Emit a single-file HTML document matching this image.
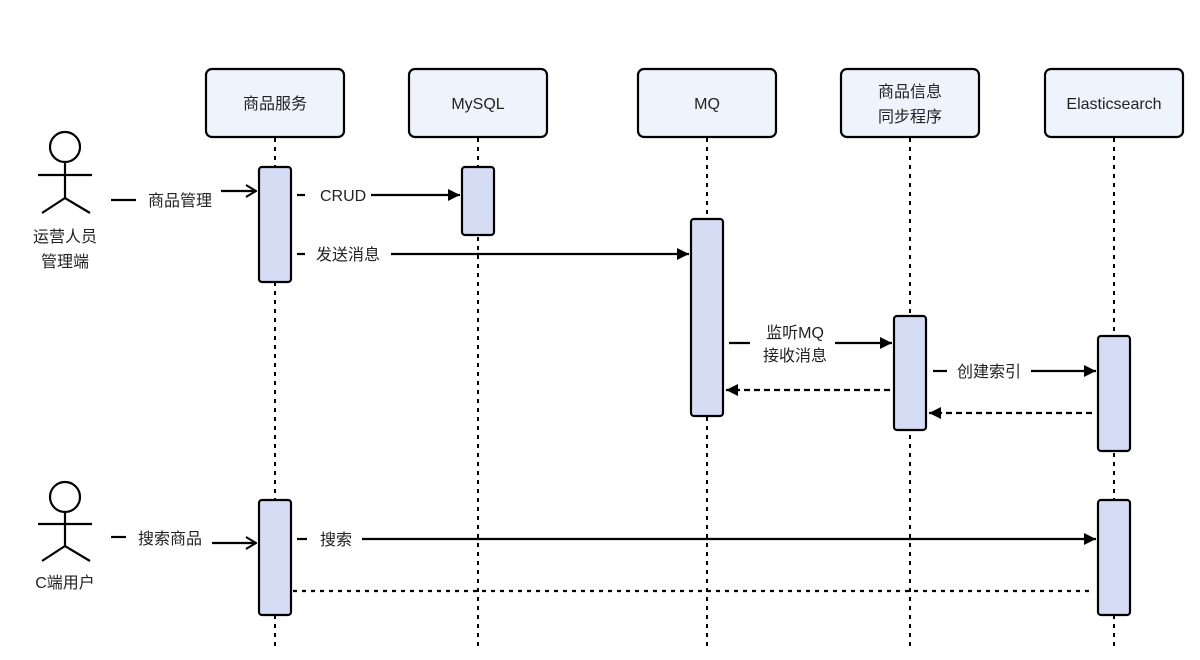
<!DOCTYPE html>
<html><head><meta charset="utf-8"><style>
html,body{margin:0;padding:0;background:#fff;}
svg{display:block;}
text{font-family:"Liberation Sans","Noto Sans CJK SC",sans-serif;font-size:16px;fill:#222;}
</style></head><body>
<svg width="1200" height="660" viewBox="0 0 1200 660" xmlns="http://www.w3.org/2000/svg">
<defs>
<marker id="fa" viewBox="0 0 12 12" refX="12" refY="6" markerWidth="12" markerHeight="12" markerUnits="userSpaceOnUse" orient="auto"><path d="M0,0 L12,6 L0,12 Z" fill="#000"/></marker>
<marker id="oa" viewBox="0 0 12 14" refX="11" refY="7" markerWidth="12" markerHeight="14" markerUnits="userSpaceOnUse" orient="auto"><path d="M1,1 L11,7 L1,13" fill="none" stroke="#000" stroke-width="2"/></marker>
</defs>
<g stroke="#000" stroke-width="2" stroke-dasharray="4 5">
<line x1="275" y1="138" x2="275" y2="648"/>
<line x1="478" y1="138" x2="478" y2="648"/>
<line x1="707" y1="138" x2="707" y2="648"/>
<line x1="910" y1="138" x2="910" y2="648"/>
<line x1="1114" y1="138" x2="1114" y2="648"/>
</g>
<g fill="#eff3fc" stroke="#000" stroke-width="2.2">
<rect x="206" y="69" width="138" height="68" rx="6"/>
<rect x="409" y="69" width="138" height="68" rx="6"/>
<rect x="638" y="69" width="138" height="68" rx="6"/>
<rect x="841" y="69" width="138" height="68" rx="6"/>
<rect x="1045" y="69" width="138" height="68" rx="6"/>
</g>
<g text-anchor="middle">
<text x="275" y="109">商品服务</text>
<text x="478" y="109">MySQL</text>
<text x="707" y="109">MQ</text>
<text x="910" y="97">商品信息</text>
<text x="910" y="122">同步程序</text>
<text x="1114" y="109">Elasticsearch</text>
</g>
<g fill="#d6dcf4" stroke="#000" stroke-width="2.2">
<rect x="259" y="167" width="32" height="115" rx="3"/>
<rect x="462" y="167" width="32" height="68" rx="3"/>
<rect x="691" y="219" width="32" height="197" rx="3"/>
<rect x="894" y="316" width="32" height="114" rx="3"/>
<rect x="1098" y="336" width="32" height="115" rx="3"/>
<rect x="259" y="500" width="32" height="115" rx="3"/>
<rect x="1098" y="500" width="32" height="115" rx="3"/>
</g>
<g fill="none" stroke="#000" stroke-width="2.2">
<circle cx="65" cy="147" r="15"/>
<path d="M65,162 V198 M38,175 H92 M42,213 L65,198 L90,213"/>
<circle cx="65" cy="497" r="15"/>
<path d="M65,512 V546 M38,524 H92 M42,561 L65,546 L90,561"/>
</g>
<g text-anchor="middle">
<text x="65" y="242">运营人员</text>
<text x="65" y="267">管理端</text>
<text x="65" y="588">C端用户</text>
</g>
<g stroke="#000" stroke-width="2.2" fill="none">
<line x1="111" y1="200" x2="136" y2="200"/>
<line x1="221" y1="191" x2="256" y2="191" marker-end="url(#oa)"/>
<line x1="297" y1="195" x2="305" y2="195"/>
<line x1="371" y1="195" x2="460" y2="195" marker-end="url(#fa)"/>
<line x1="297" y1="254" x2="305" y2="254"/>
<line x1="391" y1="254" x2="689" y2="254" marker-end="url(#fa)"/>
<line x1="729" y1="343" x2="750" y2="343"/>
<line x1="835" y1="343" x2="892" y2="343" marker-end="url(#fa)"/>
<line x1="890" y1="390" x2="726" y2="390" stroke-dasharray="6 4" marker-end="url(#fa)"/>
<line x1="933" y1="371" x2="947" y2="371"/>
<line x1="1031" y1="371" x2="1096" y2="371" marker-end="url(#fa)"/>
<line x1="1092" y1="413" x2="929" y2="413" stroke-dasharray="6 4" marker-end="url(#fa)"/>
<line x1="111" y1="537" x2="126" y2="537"/>
<line x1="212" y1="543" x2="256" y2="543" marker-end="url(#oa)"/>
<line x1="297" y1="539" x2="307" y2="539"/>
<line x1="362" y1="539" x2="1096" y2="539" marker-end="url(#fa)"/>
<line x1="293" y1="591" x2="1094" y2="591" stroke-dasharray="4 5"/>
</g>
<g>
<text x="148" y="206">商品管理</text>
<text x="320" y="201">CRUD</text>
<text x="316" y="260">发送消息</text>
<text x="795" y="338" text-anchor="middle">监听MQ</text>
<text x="795" y="361" text-anchor="middle">接收消息</text>
<text x="957" y="377">创建索引</text>
<text x="138" y="544">搜索商品</text>
<text x="320" y="545">搜索</text>
</g>
</svg>
</body></html>
